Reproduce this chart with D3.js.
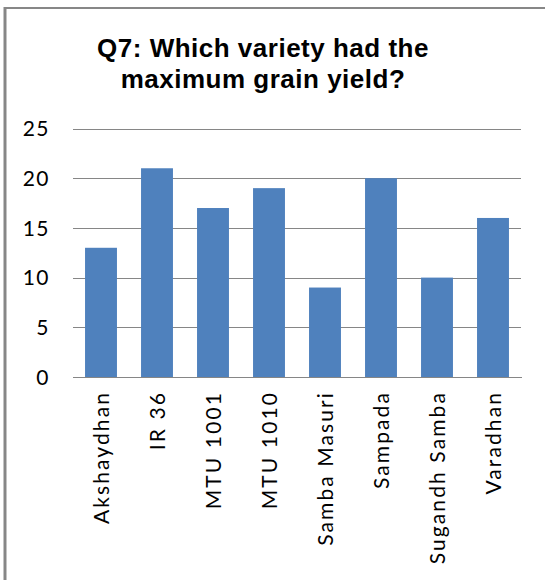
<!DOCTYPE html>
<html><head><meta charset="utf-8">
<script src="https://cdn.jsdelivr.net/npm/d3@7"></script>
<style>body{margin:0;background:#fff}svg{display:block}</style>
</head><body>
<script>
const categories = ["Akshaydhan","IR 36","MTU 1001","MTU 1010","Samba Masuri","Sampada","Sugandh Samba","Varadhan"];
const values = [13,21,17,19,9,20,10,16];
const yTicks = [0,5,10,15,20,25];
const titleLines = ["Q7: Which variety had the","maximum grain yield?"];

const W=545,H=580;
const svg=d3.select("body").append("svg").attr("width",W).attr("height",H);
// frame
svg.append("line").attr("x1",5).attr("x2",5).attr("y1",7).attr("y2",H).attr("stroke","#878787").attr("stroke-width",3);
svg.append("line").attr("x1",4).attr("x2",W).attr("y1",8).attr("y2",8).attr("stroke","#878787").attr("stroke-width",2);

const x=d3.scaleBand().domain(categories).range([73,521]).paddingInner(0.43).paddingOuter(0.215);
const y=d3.scaleLinear().domain([0,25]).range([377,128.5]);

const title=svg.append("text").attr("text-anchor","middle").attr("font-family","Liberation Sans, Arial, sans-serif")
  .attr("font-weight","bold").attr("font-size",26).attr("letter-spacing",0.5).attr("fill","#000");
title.selectAll("tspan").data(titleLines).join("tspan").attr("x",263).attr("y",(d,i)=>57+i*31).text(d=>d);

const grid=svg.append("g").attr("transform","translate(73,0)")
  .call(d3.axisLeft(y).tickValues(yTicks).tickSize(-448).tickFormat(""));
grid.select(".domain").remove();
grid.selectAll(".tick line").attr("stroke","#868686").attr("shape-rendering","crispEdges");

const yAx=svg.append("g").attr("transform","translate(50,0)")
  .call(d3.axisLeft(y).tickValues(yTicks).tickSize(0).tickPadding(0));
yAx.select(".domain").remove();
yAx.selectAll("text").attr("font-family","Lato, sans-serif").attr("font-size",21).attr("letter-spacing",1.5).attr("fill","#000").attr("dy","0.35em");

svg.append("g").selectAll("rect").data(values).join("rect")
  .attr("x",(d,i)=>x(categories[i])).attr("width",x.bandwidth())
  .attr("y",d=>y(d)).attr("height",d=>y(0)-y(d)).attr("fill","#4F81BD");

const xAx=svg.append("g").attr("transform","translate(0,377)")
  .call(d3.axisBottom(x).tickSize(0).tickPadding(0));
xAx.select(".domain").attr("stroke","#868686").attr("shape-rendering","crispEdges");
xAx.selectAll("text").attr("font-family","Lato, sans-serif").attr("font-size",21).attr("letter-spacing",2.1).attr("fill","#000")
  .attr("transform","rotate(-90)").attr("text-anchor","end").attr("x",-14).attr("y",1).attr("dy","0.35em");
</script>
</body></html>
